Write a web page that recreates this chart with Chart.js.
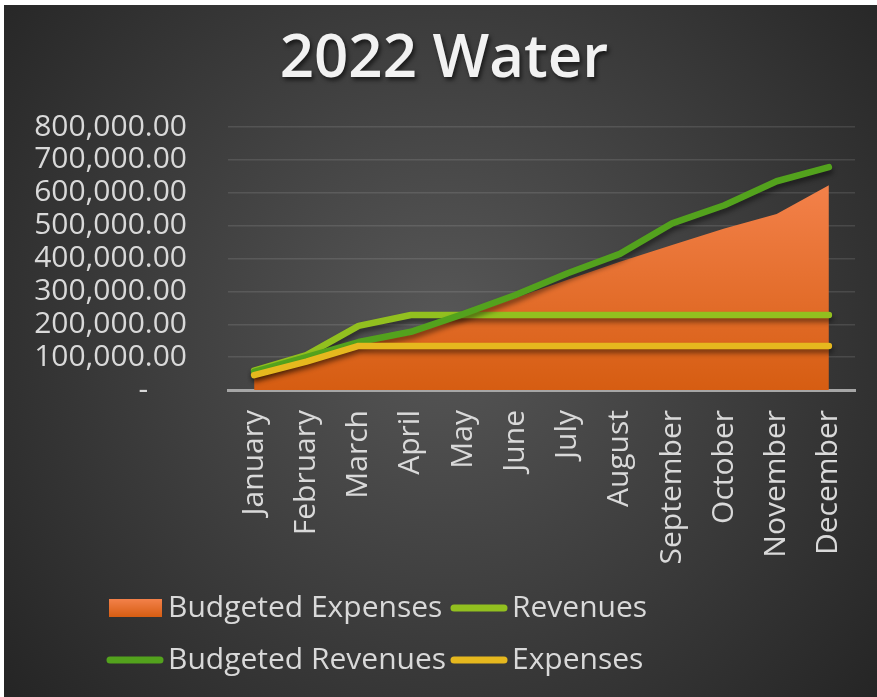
<!DOCTYPE html>
<html>
<head>
<meta charset="utf-8">
<script src="https://cdn.jsdelivr.net/npm/chart.js@4.4.0/dist/chart.umd.min.js"></script>
<style>
  html, body { margin: 0; padding: 0; background: #fff; }
  #wrap { position: absolute; left: 4px; top: 5px; width: 873px; height: 692px; }
</style>
</head>
<body>
<div id="wrap"><canvas id="waterChart" width="873" height="692"></canvas></div>
<script>
const months = ["January", "February", "March", "April", "May", "June",
  "July", "August", "September", "October", "November", "December"];

const budgetedExpenses = [40000, 85000, 140000, 168000, 223000, 280000, 335000, 390000, 441000, 491000, 535000, 623000];
const revenues = [59000, 106000, 195000, 228000, 228000, 228000, 228000, 228000, 228000, 228000, 228000, 228000];
const budgetedRevenues = [55000, 100000, 146000, 177000, 231000, 289000, 355000, 414000, 507000, 562000, 635000, 678000];
const expenses = [45000, 86000, 134000, 134000, 134000, 134000, 134000, 134000, 134000, 134000, 134000, 134000];

const yMax = 800000;
const yStep = 100000;

const labelColor = "#d9d9d9";
const font = "Open Sans";

function areaFill(context) {
  const chart = context.chart;
  const area = chart.chartArea;
  if (!area) return "#e06a20";
  const top = chart.scales.y.getPixelForValue(Math.max(...budgetedExpenses));
  const g = chart.ctx.createLinearGradient(0, top, 0, area.bottom);
  g.addColorStop(0, "#f3814a");
  g.addColorStop(1, "#d65d12");
  return g;
}

// dark radial background + title
const backdrop = {
  id: "backdrop",
  beforeDraw(chart) {
    const { ctx, width, height } = chart;
    ctx.save();
    const g = ctx.createRadialGradient(440, 320, 0, 440, 320, 640);
    g.addColorStop(0, "#575757");
    g.addColorStop(1, "#1f1f1f");
    ctx.fillStyle = g;
    ctx.fillRect(0, 0, width, height);
    ctx.restore();
  },
  afterDraw(chart) {
    const ctx = chart.ctx;
    ctx.save();
    ctx.font = "600 60px '" + font + "'";
    ctx.fillStyle = "#f2f2f2";
    ctx.textAlign = "center";
    ctx.textBaseline = "middle";
    ctx.shadowColor = "rgba(0,0,0,0.6)";
    ctx.shadowBlur = 4;
    ctx.shadowOffsetX = 2;
    ctx.shadowOffsetY = 3;
    ctx.fillText("2022 Water", 440, 55);
    ctx.restore();
  }
};

// soft shadow under the lines
const lineShadow = {
  id: "lineShadow",
  beforeDatasetDraw(chart, args) {
    const ds = chart.data.datasets[args.index];
    chart.ctx.save();
    if (!ds.fill) {
      chart.ctx.shadowColor = "rgba(0,0,0,0.45)";
      chart.ctx.shadowBlur = 5;
      chart.ctx.shadowOffsetX = 1;
      chart.ctx.shadowOffsetY = 4;
    }
  },
  afterDatasetDraw(chart) {
    chart.ctx.restore();
  }
};

// two-column legend like the excel one
const gridLegend = {
  id: "gridLegend",
  afterDraw(chart) {
    const ctx = chart.ctx;
    const cols = [102, 446];
    const rows = [603, 655];
    ctx.save();
    ctx.font = "30px '" + font + "'";
    ctx.textBaseline = "middle";
    ctx.textAlign = "left";
    chart.data.datasets.forEach((ds, i) => {
      const x = cols[i % 2];
      const y = rows[Math.floor(i / 2)];
      if (ds.fill) {
        const g = ctx.createLinearGradient(0, y - 9, 0, y + 9);
        g.addColorStop(0, "#f3814a");
        g.addColorStop(1, "#d65d12");
        ctx.fillStyle = g;
        ctx.fillRect(x + 3, y - 9, 53, 18);
      } else {
        ctx.strokeStyle = ds.borderColor;
        ctx.lineWidth = 7;
        ctx.lineCap = "round";
        ctx.beginPath();
        ctx.moveTo(x + 4, y);
        ctx.lineTo(x + 54, y);
        ctx.stroke();
      }
      ctx.fillStyle = labelColor;
      ctx.fillText(ds.label, x + 62, y);
    });
    ctx.restore();
  }
};

const lineStyle = {
  type: "line",
  fill: false,
  borderWidth: 6.5,
  pointRadius: 0,
  pointHoverRadius: 0,
  tension: 0,
  borderCapStyle: "round",
  borderJoinStyle: "round"
};

new Chart(document.getElementById("waterChart"), {
  type: "line",
  data: {
    labels: months,
    datasets: [
      {
        label: "Budgeted Expenses",
        data: budgetedExpenses,
        fill: "origin",
        backgroundColor: areaFill,
        borderWidth: 0,
        pointRadius: 0,
        tension: 0,
        order: 4
      },
      Object.assign({}, lineStyle, { label: "Revenues", data: revenues, borderColor: "#92c01f", order: 3 }),
      Object.assign({}, lineStyle, { label: "Budgeted Revenues", data: budgetedRevenues, borderColor: "#53a21d", order: 2 }),
      Object.assign({}, lineStyle, { label: "Expenses", data: expenses, borderColor: "#e6b81e", order: 1 })
    ]
  },
  options: {
    responsive: false,
    animation: false,
    layout: { padding: { top: 122, right: 22, left: 0, bottom: 0 } },
    plugins: {
      legend: { display: false },
      title: { display: false },
      tooltip: { enabled: false }
    },
    scales: {
      x: {
        offset: true,
        grid: { display: false, drawTicks: false },
        border: { display: true, color: "#a6a6a6", width: 3 },
        ticks: {
          color: labelColor,
          font: { family: font, size: 30 },
          minRotation: 90,
          maxRotation: 90,
          autoSkip: false,
          padding: 20
        },
        afterFit: (scale) => {
          scale.height = 307;
          scale.paddingLeft = 0;
          scale.paddingRight = 0;
        }
      },
      y: {
        min: 0,
        max: yMax,
        grid: { color: "rgba(255,255,255,0.11)", lineWidth: 1.5, drawTicks: false },
        border: { display: false },
        ticks: {
          stepSize: yStep,
          autoSkip: false,
          color: labelColor,
          font: { family: font, size: 30, lineHeight: 1 },
          padding: 41,
          callback: (v) => v === 0 ? "-     " :
            v.toLocaleString("en-US", { minimumFractionDigits: 2, maximumFractionDigits: 2 })
        },
        afterFit: (scale) => {
          scale.width = 224;
          scale.paddingTop = 0;
          scale.paddingBottom = 0;
        }
      }
    }
  },
  plugins: [backdrop, lineShadow, gridLegend]
});
</script>
</body>
</html>
